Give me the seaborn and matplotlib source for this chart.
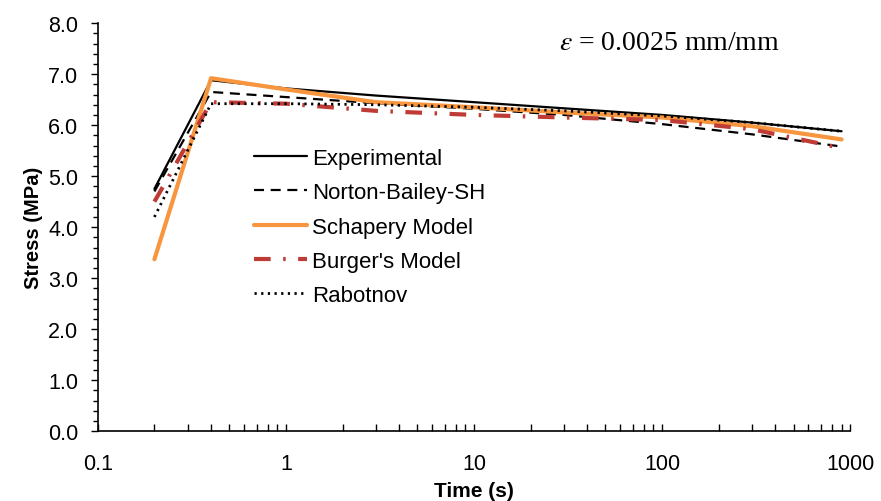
import matplotlib
matplotlib.use("Agg")
import matplotlib.pyplot as plt
import seaborn as sns
import numpy as np
import pandas as pd
from matplotlib.ticker import FixedLocator, NullFormatter, MultipleLocator, FuncFormatter, LogLocator

time_s = [0.2, 0.4, 1, 3, 10, 30, 100, 300, 900]
experimental = [4.75, 6.88, 6.72, 6.58, 6.45, 6.33, 6.20, 6.05, 5.88]
norton_bailey = [4.70, 6.65, 6.55, 6.43, 6.32, 6.20, 6.02, 5.82, 5.58]
schapery = [3.37, 6.92, 6.70, 6.45, 6.35, 6.25, 6.15, 5.98, 5.72]
burgers = [4.50, 6.45, 6.42, 6.28, 6.20, 6.15, 6.10, 5.92, 5.55]
rabotnov = [4.20, 6.42, 6.42, 6.40, 6.35, 6.28, 6.18, 6.05, 5.88]

labels = ["Experimental", "Norton-Bailey-SH", "Schapery Model", "Burger's Model", "Rabotnov"]
series = [experimental, norton_bailey, schapery, burgers, rabotnov]

sns.set_theme(style="white")
plt.rcParams['font.family'] = ['Liberation Sans', 'DejaVu Sans']
plt.rcParams['mathtext.fontset'] = 'stix'
plt.rcParams['text.color'] = 'black'
plt.rcParams['axes.labelcolor'] = 'black'

fig = plt.figure(figsize=(8.81, 5.02), dpi=100)
ax = fig.add_axes([0.111, 0.139, 0.854, 0.813])

styles = [
    dict(color="black", lw=1.6, dashes=None),
    dict(color="black", lw=1.6, dashes=(4.5, 3)),
    dict(color="#F7963E", lw=3.0, dashes=None),
    dict(color="#BF3B36", lw=3.0, dashes=(4, 3, 0.6, 3)),
    dict(color="black", lw=2.0, dashes=(0.8, 1.6)),
]

handles = []
for lab, vals, st in zip(labels, series, styles):
    df = pd.DataFrame({"t": time_s, "s": vals})
    sns.lineplot(data=df, x="t", y="s", ax=ax, color=st["color"], linewidth=st["lw"],
                 legend=False, estimator=None, sort=False)
    ln = ax.lines[-1]
    if st["dashes"] is not None:
        ln.set_dashes(st["dashes"])
    ln.set_label(lab)
    handles.append(ln)

ax.set_xscale("log")
ax.set_xlim(0.1, 1000)
ax.set_ylim(0, 8)

ax.xaxis.set_major_locator(FixedLocator([0.1, 1, 10, 100, 1000]))
ax.xaxis.set_major_formatter(FuncFormatter(lambda v, p: f"{v:g}"))
ax.xaxis.set_minor_locator(LogLocator(base=10, subs=np.arange(2, 10)))
ax.xaxis.set_minor_formatter(NullFormatter())
ax.yaxis.set_major_locator(MultipleLocator(1.0))
ax.yaxis.set_major_formatter(FuncFormatter(lambda v, p: f"{v:.1f}"))
ax.yaxis.set_minor_locator(MultipleLocator(0.2))

ax.tick_params(axis="x", which="both", direction="in", length=5, width=1, colors="black",
               labelsize=15.5, pad=16, bottom=True)
ax.tick_params(axis="y", which="major", direction="out", length=5, width=1, colors="black",
               labelsize=15.5, left=True, pad=9)
ax.tick_params(axis="y", which="minor", direction="out", length=3.5, width=1, colors="black", left=True)

for side in ["top", "right"]:
    ax.spines[side].set_visible(False)
for side in ["left", "bottom"]:
    ax.spines[side].set_color("black")
    ax.spines[side].set_linewidth(1.2)

ax.set_xlabel("Time (s)", fontsize=15, fontweight="bold", labelpad=5)
ax.set_ylabel("Stress (MPa)", fontsize=14.5, fontweight="bold", labelpad=4)

ax.legend(handles=handles, labels=labels, loc="upper left", bbox_to_anchor=(0.19, 0.727),
          frameon=False, fontsize=16, handlelength=2.4, labelspacing=0.6, handletextpad=0.2,
          borderaxespad=0.2)

ax.text(0.76, 0.953, r"$\varepsilon$ = 0.0025 mm/mm", transform=ax.transAxes,
        ha="center", va="center", fontsize=20, family="Liberation Serif")

fig.savefig("out.png", dpi=100)
